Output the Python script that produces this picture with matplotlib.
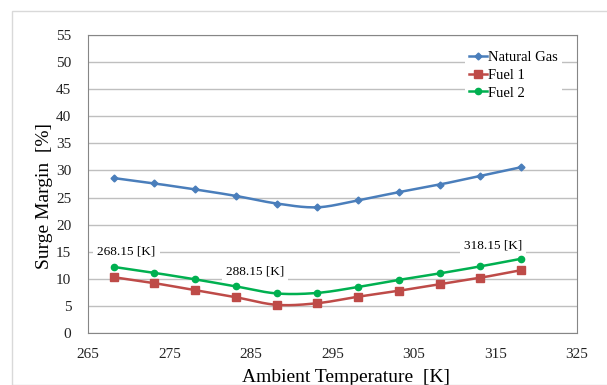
import numpy as np
import matplotlib
matplotlib.use("Agg")
import matplotlib.pyplot as plt
from matplotlib.patches import Rectangle

temps = [268.15, 273.15, 278.15, 283.15, 288.15, 293.15, 298.15, 303.15, 308.15, 313.15, 318.15]
natural_gas = [28.6, 27.6, 26.5, 25.3, 23.9, 23.2, 24.5, 26.0, 27.4, 29.0, 30.6]
fuel_1 = [10.3, 9.2, 7.9, 6.6, 5.2, 5.5, 6.7, 7.8, 9.0, 10.2, 11.6]
fuel_2 = [12.2, 11.1, 9.9, 8.6, 7.3, 7.4, 8.5, 9.8, 11.0, 12.3, 13.7]
x_ticks = [265, 275, 285, 295, 305, 315, 325]
y_ticks = [0, 5, 10, 15, 20, 25, 30, 35, 40, 45, 50, 55]
notes = [("268.15 [K]", 269.7, 15.1), ("288.15 [K]", 285.5, 11.4), ("318.15 [K]", 314.7, 16.2)]

plt.rcParams["font.family"] = ["Liberation Serif", "DejaVu Serif"]


def smooth(x, y, n=20):
    """Catmull-Rom style smoothing, close to Excel's smoothed line."""
    x = np.asarray(x, float)
    y = np.asarray(y, float)
    px = np.concatenate([[2 * x[0] - x[1]], x, [2 * x[-1] - x[-2]]])
    py = np.concatenate([[2 * y[0] - y[1]], y, [2 * y[-1] - y[-2]]])
    t = np.linspace(0, 1, n, endpoint=False)
    xs, ys = [], []
    for i in range(1, len(px) - 2):
        for p, out in ((px, xs), (py, ys)):
            p0, p1, p2, p3 = p[i - 1], p[i], p[i + 1], p[i + 2]
            out.extend(0.5 * (2 * p1 + (-p0 + p2) * t
                              + (2 * p0 - 5 * p1 + 4 * p2 - p3) * t ** 2
                              + (-p0 + 3 * p1 - 3 * p2 + p3) * t ** 3))
    xs.append(x[-1])
    ys.append(y[-1])
    return np.array(xs), np.array(ys)


fig = plt.figure(figsize=(6.07, 3.85), dpi=100)
fig.patches.append(Rectangle((12 / 607, 0), 1.2, 1 - 11 / 385, transform=fig.transFigure,
                             fill=False, edgecolor="#D9D9D9", linewidth=1.0))
ax = fig.add_axes([88 / 607, 1 - 333 / 385, (577 - 88) / 607, (333 - 35) / 385])

series = [
    ("Natural Gas", natural_gas, "#4A7EBB", "D", 3.5),
    ("Fuel 1", fuel_1, "#BE4B48", "s", 5.5),
    ("Fuel 2", fuel_2, "#00B050", "o", 4.5),
]
for label, vals, color, marker, ms in series:
    sx, sy = smooth(temps, vals)
    ax.plot(sx, sy, color=color, lw=1.8, zorder=3)
    ax.plot(temps, vals, linestyle="none", marker=marker, ms=ms, color=color, zorder=4)
    ax.plot([], [], color=color, lw=1.8, marker=marker, ms=ms, label=label)

for text, x, y in notes:
    ax.text(x, y, text, ha="center", va="center", fontsize=9.5, zorder=5,
            bbox=dict(facecolor="white", edgecolor="none", pad=3))

ax.set_xlim(265, 325)
ax.set_ylim(0, 55)
ax.set_xticks(x_ticks)
ax.set_yticks(y_ticks)
ax.grid(axis="y", color="#BFBFBF", lw=1.0)
ax.set_axisbelow(True)
for s in ax.spines.values():
    s.set_color("#868686")
ax.tick_params(length=0, labelsize=11, colors="#222222")
ax.tick_params(axis="y", pad=12)
ax.tick_params(axis="x", pad=11)
ax.set_ylabel("Surge Margin  [%]", fontsize=14)
ax.set_xlabel("Ambient Temperature  [K]", fontsize=14)
ax.yaxis.set_label_coords(-0.072, 0.46)
ax.xaxis.set_label_coords(0.528, -0.12)

leg = ax.legend(loc="upper right", bbox_to_anchor=(0.985, 0.985), fontsize=10.5, frameon=True,
                handlelength=1.2, handletextpad=0.1, labelspacing=0.3, borderpad=0.3)
leg.get_frame().set_edgecolor("none")
leg.get_frame().set_alpha(1)

fig.savefig("out.png", dpi=100, facecolor="white")
